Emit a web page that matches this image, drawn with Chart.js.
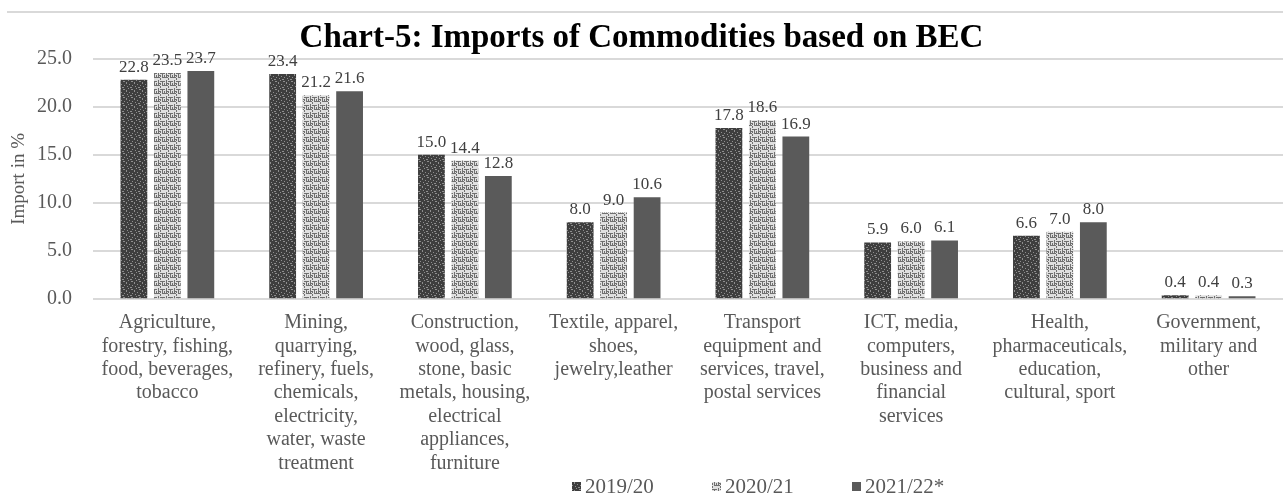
<!DOCTYPE html>
<html>
<head>
<meta charset="utf-8">
<script src="https://cdn.jsdelivr.net/npm/chart.js@4"></script>
<style>
  html, body { margin: 0; padding: 0; background: #fff; }
  #wrap { width: 1283px; height: 498px; }
</style>
</head>
<body>
<div id="wrap"><canvas id="bec" width="1283" height="498"></canvas></div>
<script>
const categories = [
    ['Agriculture,', 'forestry, fishing,', 'food, beverages,', 'tobacco'],
    ['Mining,', 'quarrying,', 'refinery, fuels,', 'chemicals,', 'electricity,', 'water, waste', 'treatment'],
    ['Construction,', 'wood, glass,', 'stone, basic', 'metals, housing,', 'electrical', 'appliances,', 'furniture'],
    ['Textile, apparel,', 'shoes,', 'jewelry,leather'],
    ['Transport', 'equipment and', 'services, travel,', 'postal services'],
    ['ICT, media,', 'computers,', 'business and', 'financial', 'services'],
    ['Health,', 'pharmaceuticals,', 'education,', 'cultural, sport'],
    ['Government,', 'military and', 'other']
]
const seriesNames = ['2019/20', '2020/21', '2021/22*']
const imports1920 = [22.8, 23.4, 15.0, 8.0, 17.8, 5.9, 6.6, 0.4]
const imports2021 = [23.5, 21.2, 14.4, 9.0, 18.6, 6.0, 7.0, 0.4]
const imports2122 = [23.7, 21.6, 12.8, 10.6, 16.9, 6.1, 8.0, 0.3]
const yTicks = [0, 5, 10, 15, 20, 25]

const serif = "'Liberation Serif', 'Times New Roman', serif"
const textGrey = '#595959'

// little textures standing in for the hatched fills of the original
const makePattern = (base, ink, cells) => {
    const c = document.createElement('canvas')
    c.width = 8; c.height = 8
    const g = c.getContext('2d')
    g.fillStyle = base
    g.fillRect(0, 0, 8, 8)
    g.fillStyle = ink
    cells.forEach(([x, y, w, h]) => g.fillRect(x, y, w, h))
    return g.createPattern(c, 'repeat')
}
const darkFill = makePattern('#3e3e3e', '#8e8e8e',
    [[0, 0, 1, 1], [3, 1, 2, 1], [6, 2, 1, 2], [1, 4, 1, 1], [4, 5, 1, 1], [2, 7, 2, 1], [7, 6, 1, 1]])
const lightFill = makePattern('#e0e0e0', '#707070',
    [[0, 1, 5, 1], [6, 0, 1, 5], [2, 5, 6, 1], [2, 2, 1, 3], [0, 6, 1, 2], [4, 3, 1, 2], [7, 3, 1, 1], [0, 3, 1, 2]])
const solidFill = '#5a5a5a'

const topRule = {
    id: 'topRule',
    beforeDraw(chart) {
        const c = chart.ctx
        c.save()
        c.fillStyle = '#fff'
        c.fillRect(0, 0, chart.width, chart.height)
        c.strokeStyle = '#d9d9d9'
        c.lineWidth = 2
        c.beginPath()
        c.moveTo(7, 12)
        c.lineTo(chart.width, 12)
        c.stroke()
        c.restore()
    }
}

const barValues = {
    id: 'barValues',
    afterDatasetsDraw(chart) {
        const c = chart.ctx
        c.save()
        c.font = '17px ' + serif
        c.fillStyle = '#404040'
        c.textAlign = 'center'
        c.textBaseline = 'bottom'
        chart.data.datasets.forEach((ds, i) => {
            chart.getDatasetMeta(i).data.forEach((bar, j) => {
                c.fillText(ds.data[j].toFixed(1), bar.x, bar.y - 4)
            })
        })
        c.restore()
    }
}

// legend sits beside the last axis labels, so it is drawn by hand
const sideLegend = {
    id: 'sideLegend',
    afterDraw(chart) {
        const c = chart.ctx
        const spots = [572, 712, 852]
        c.save()
        c.font = '21px ' + serif
        c.textBaseline = 'middle'
        c.textAlign = 'left'
        chart.data.datasets.forEach((ds, i) => {
            c.fillStyle = ds.backgroundColor
            c.fillRect(spots[i], 482, 9, 9)
            c.fillStyle = textGrey
            c.fillText(ds.label, spots[i] + 13, 487)
        })
        c.restore()
    }
}

const bec = new Chart(document.getElementById('bec'), {
    type: 'bar',
    data: {
        labels: categories,
        datasets: [
            { label: seriesNames[0], data: imports1920, backgroundColor: darkFill },
            { label: seriesNames[1], data: imports2021, backgroundColor: lightFill },
            { label: seriesNames[2], data: imports2122, backgroundColor: solidFill }
        ]
    },
    options: {
        responsive: false,
        animation: false,
        layout: { padding: { top: 19, bottom: 19, left: 0, right: 0 } },
        datasets: {
            bar: { barPercentage: 0.8, categoryPercentage: 0.675 }
        },
        plugins: {
            legend: { display: false },
            tooltip: { enabled: false },
            title: {
                display: true,
                text: 'Chart-5: Imports of Commodities based on BEC',
                color: '#000',
                font: { family: serif, size: 33, weight: 'bold' },
                padding: { top: 0, bottom: 0 }
            }
        },
        scales: {
            x: {
                grid: { display: false },
                border: { display: false },
                ticks: {
                    color: textGrey,
                    font: { family: serif, size: 20, lineHeight: 1.17 },
                    maxRotation: 0,
                    autoSkip: false,
                    padding: 4
                }
            },
            y: {
                min: 0,
                max: 25,
                afterFit(scale) { scale.width = 93 },
                afterBuildTicks(scale) { scale.ticks = yTicks.map(v => ({ value: v })) },
                border: { display: false },
                grid: { color: '#d9d9d9', lineWidth: 2, drawTicks: false },
                ticks: {
                    color: textGrey,
                    font: { family: serif, size: 20 },
                    padding: 21,
                    callback: v => v.toFixed(1)
                },
                title: {
                    display: true,
                    text: 'Import in %',
                    color: textGrey,
                    font: { family: serif, size: 19 },
                    padding: { top: 8, bottom: 0 }
                }
            }
        }
    },
    plugins: [topRule, barValues, sideLegend]
})
</script>
</body>
</html>
